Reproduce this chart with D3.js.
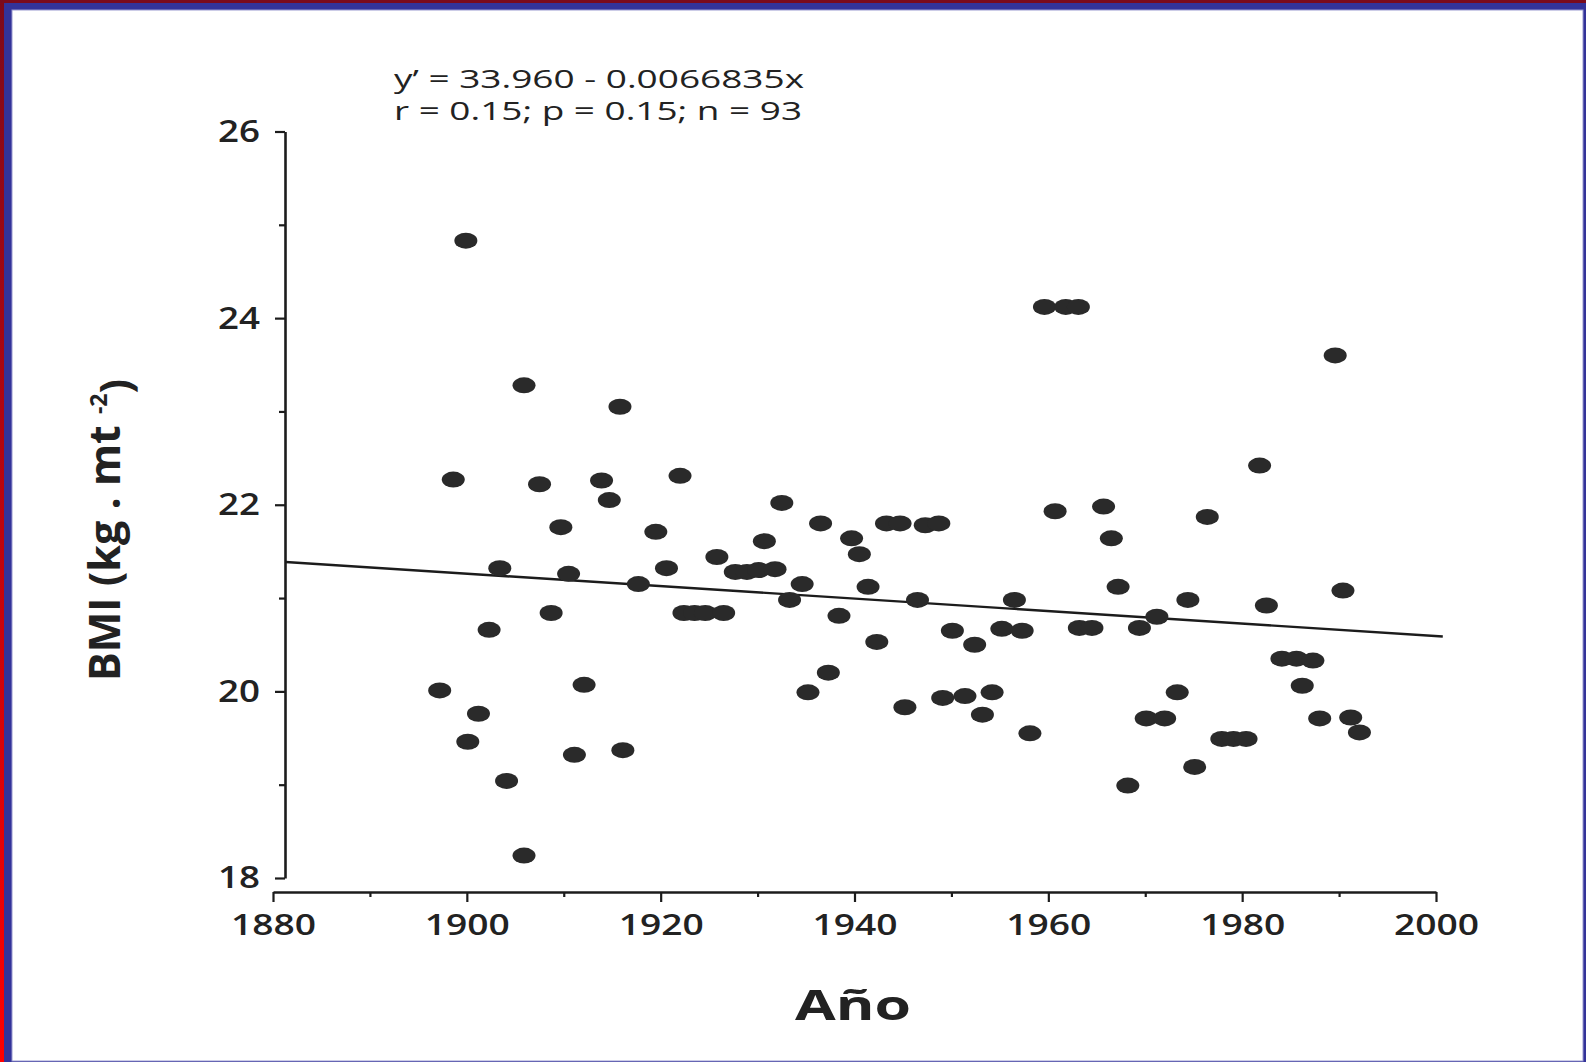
<!DOCTYPE html>
<html>
<head>
<meta charset="utf-8">
<script src="https://cdn.jsdelivr.net/npm/d3@7"></script>
<style>
  html, body { margin: 0; padding: 0; background: #fff; }
  svg { display: block; }
  text { font-family: "Open Sans", "DejaVu Sans", sans-serif; fill: #222; }
</style>
</head>
<body>
<svg id="chart"></svg>
<script>
var width = 1586;
var height = 1062;

// year of each subject (x) and its BMI (y)
var years = [1897.2, 1898.6, 1899.9, 1900.1, 1901.2, 1902.3, 1903.4, 1904.1, 1905.9, 1905.9,
             1907.5, 1908.7, 1909.7, 1910.5, 1911.1, 1912.1, 1913.9, 1914.7, 1915.8, 1916.1,
             1917.7, 1919.5, 1920.6, 1922.0, 1922.4, 1923.5, 1924.6, 1926.5, 1925.8, 1927.7,
             1928.9, 1930.1, 1930.7, 1931.8, 1932.5, 1933.3, 1934.6, 1935.2, 1936.5, 1937.3,
             1938.4, 1939.7, 1940.5, 1941.4, 1942.3, 1943.3, 1944.7, 1945.2, 1946.5, 1947.3,
             1948.7, 1949.1, 1950.1, 1951.4, 1952.4, 1953.2, 1954.2, 1955.2, 1956.5, 1957.3,
             1958.1, 1959.6, 1960.7, 1961.8, 1963.1, 1963.2, 1964.5, 1965.7, 1966.5, 1967.2,
             1968.2, 1969.4, 1970.1, 1971.2, 1972.0, 1973.3, 1974.4, 1975.1, 1976.4, 1977.9,
             1979.1, 1980.4, 1981.8, 1982.5, 1984.1, 1985.6, 1987.3, 1986.2, 1988.0, 1989.6,
             1990.4, 1991.2, 1992.1];

var bmi = [20.01, 22.27, 24.83, 19.46, 19.76, 20.66, 21.32, 19.04, 23.28, 18.24,
           22.22, 20.84, 21.76, 21.26, 19.32, 20.07, 22.26, 22.05, 23.05, 19.37,
           21.15, 21.71, 21.32, 22.31, 20.84, 20.84, 20.84, 20.84, 21.44, 21.28,
           21.28, 21.30, 21.61, 21.31, 22.02, 20.98, 21.15, 19.99, 21.80, 20.20,
           20.81, 21.64, 21.47, 21.12, 20.53, 21.80, 21.80, 19.83, 20.98, 21.78,
           21.80, 19.93, 20.65, 19.95, 20.50, 19.75, 19.99, 20.67, 20.98, 20.65,
           19.55, 24.12, 21.93, 24.12, 24.12, 20.68, 20.68, 21.98, 21.64, 21.12,
           18.99, 20.68, 19.71, 20.80, 19.71, 19.99, 20.98, 19.19, 21.87, 19.49,
           19.49, 19.49, 22.42, 20.92, 20.35, 20.35, 20.33, 20.06, 19.71, 23.60,
           21.08, 19.72, 19.56];

var points = years.map((y, i) => ({ year: y, bmi: bmi[i] }));

// axis ticks
var xTicks = [1880, 1900, 1920, 1940, 1960, 1980, 2000];
var xMinorTicks = [1890, 1910, 1930, 1950, 1970, 1990];
var yTicks = [18, 20, 22, 24, 26];
var yMinorTicks = [19, 21, 23, 25];

// fitted line  y' = 33.960 - 0.0066835x
var intercept = 33.960;
var slope = -0.0066835;
var lineYears = [1881.3, 2000.7];

var annotation = ["y\u2019 = 33.960 - 0.0066835x", "r = 0.15; p = 0.15; n = 93"];

var svg = d3.select("#chart")
    .attr("width", width)
    .attr("height", height);

// slide frame: red strip, blue band, white page
var defs = svg.append("defs");
var grad = defs.append("linearGradient")
    .attr("id", "redStrip")
    .attr("x1", 0).attr("y1", 0).attr("x2", 0).attr("y2", 1);
grad.append("stop").attr("offset", "0%").attr("stop-color", "#7d0a1a");
grad.append("stop").attr("offset", "100%").attr("stop-color", "#ff0000");

svg.append("rect").attr("width", width).attr("height", height).attr("fill", "url(#redStrip)");
svg.append("rect").attr("x", 0).attr("y", 0).attr("width", width).attr("height", 3).attr("fill", "#7a0b1c");
svg.append("rect").attr("x", 4).attr("y", 3).attr("width", width - 4).attr("height", height - 3).attr("fill", "#333399");
svg.append("rect").attr("x", 12).attr("y", 10).attr("width", 1571).attr("height", 1051)
    .attr("fill", "#fff").attr("stroke", "#9a9ad0").attr("stroke-width", 1);

// scales
var xScale = d3.scaleLinear()
    .domain([1880, 2000])
    .range([273, 1436]);

var yScale = d3.scaleLinear()
    .domain([18, 26])
    .range([878, 131.5]);

// x axis (detached, below the y axis)
var xAxisG = svg.append("g")
    .attr("transform", "translate(0,892)")
    .call(d3.axisBottom(xScale)
        .tickValues(xTicks)
        .tickFormat(d3.format("d"))
        .tickSize(10)
        .tickSizeOuter(0)
        .tickPadding(12));

svg.append("g")
    .attr("transform", "translate(0,892)")
    .call(d3.axisBottom(xScale)
        .tickValues(xMinorTicks)
        .tickFormat("")
        .tickSize(5)
        .tickSizeOuter(0))
    .select(".domain").remove();

xAxisG.selectAll("text")
    .style("font-size", "29px")
    .style("font-weight", 600)
    .attr("textLength", 85)
    .attr("lengthAdjust", "spacingAndGlyphs");

// y axis
var yAxisG = svg.append("g")
    .attr("transform", "translate(285,0)")
    .call(d3.axisLeft(yScale)
        .tickValues(yTicks)
        .tickFormat(d3.format("d"))
        .tickSize(10)
        .tickSizeOuter(0)
        .tickPadding(15));

svg.append("g")
    .attr("transform", "translate(285,0)")
    .call(d3.axisLeft(yScale)
        .tickValues(yMinorTicks)
        .tickFormat("")
        .tickSize(6)
        .tickSizeOuter(0))
    .select(".domain").remove();

yAxisG.selectAll("text")
    .style("font-size", "31px")
    .style("font-weight", 600)
    .attr("textLength", 42)
    .attr("lengthAdjust", "spacingAndGlyphs");

svg.selectAll(".domain").attr("stroke", "#1c1c1c").attr("stroke-width", 2.6);
svg.selectAll(".tick line").attr("stroke", "#1c1c1c").attr("stroke-width", 2.2);

// regression line
svg.append("line")
    .attr("x1", xScale(lineYears[0]))
    .attr("y1", yScale(intercept + slope * lineYears[0]))
    .attr("x2", xScale(lineYears[1]))
    .attr("y2", yScale(intercept + slope * lineYears[1]))
    .attr("stroke", "#1c1c1c")
    .attr("stroke-width", 2.4);

// the dots
svg.append("g")
    .selectAll("ellipse")
    .data(points)
    .enter()
    .append("ellipse")
        .attr("cx", d => xScale(d.year))
        .attr("cy", d => yScale(d.bmi))
        .attr("rx", 11.5)
        .attr("ry", 8)
        .attr("fill", "#2a2a2a");

// equation and stats
svg.append("text")
    .attr("x", 394)
    .attr("y", 88)
    .attr("textLength", 410)
    .attr("lengthAdjust", "spacingAndGlyphs")
    .style("font-size", "25px")
    .text(annotation[0]);

svg.append("text")
    .attr("x", 394)
    .attr("y", 120)
    .attr("textLength", 408)
    .attr("lengthAdjust", "spacingAndGlyphs")
    .style("font-size", "25px")
    .text(annotation[1]);

// x title
svg.append("text")
    .attr("x", 853)
    .attr("y", 1020)
    .attr("text-anchor", "middle")
    .attr("textLength", 116)
    .attr("lengthAdjust", "spacingAndGlyphs")
    .style("font-size", "42px")
    .style("font-weight", 700)
    .text("Año");

// y title
var yTitle = svg.append("text")
    .attr("transform", "translate(120,530) rotate(-90)")
    .attr("text-anchor", "middle")
    .style("font-size", "43px")
    .style("font-weight", 700);
yTitle.append("tspan").text("BMI (kg . mt ");
yTitle.append("tspan").attr("dy", "-0.55em").style("font-size", "23px").text("-2");
yTitle.append("tspan").attr("dy", "0.55em").text(")");
</script>
</body>
</html>
